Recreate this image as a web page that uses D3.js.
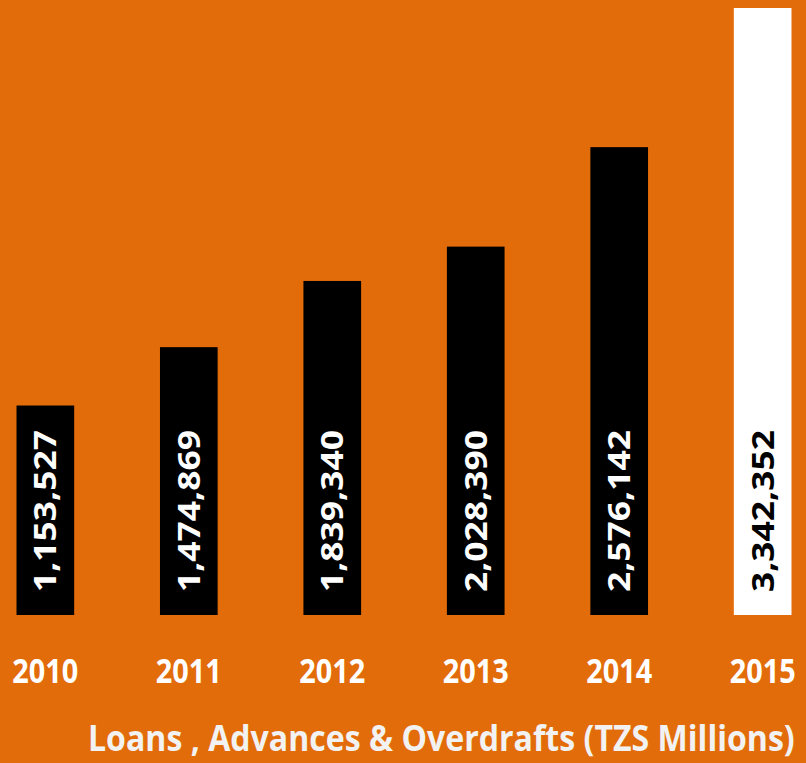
<!DOCTYPE html>
<html>
<head>
<meta charset="utf-8">
<script src="https://cdn.jsdelivr.net/npm/d3@7"></script>
<style>
  html, body { margin: 0; padding: 0; background: #E36C0A; }
  svg { display: block; }
</style>
</head>
<body>
<svg id="chart" width="806" height="763"></svg>
<script>
// Loans, advances & overdrafts by year (TZS millions)
const years = ["2010", "2011", "2012", "2013", "2014", "2015"];
const values = [1153527, 1474869, 1839340, 2028390, 2576142, 3342352];
const barColors = ["#000000", "#000000", "#000000", "#000000", "#000000", "#FFFFFF"];
const labelColors = ["#FFFFFF", "#FFFFFF", "#FFFFFF", "#FFFFFF", "#FFFFFF", "#000000"];
const title = "Loans , Advances & Overdrafts (TZS Millions)";

const W = 806, H = 763;
const baseline = 615;
const font = "'Open Sans', 'DejaVu Sans', sans-serif";

const svg = d3.select("#chart");
svg.append("rect").attr("width", W).attr("height", H).attr("fill", "#E36C0A");

const x = d3.scaleBand().domain(years).range([16.5, 791.5]).paddingInner(0.598).paddingOuter(0);
const y = d3.scaleLinear().domain([0, d3.max(values)]).range([baseline, 8]);

const data = years.map((yr, i) => ({ yr, v: values[i], fill: barColors[i], tc: labelColors[i] }));
const fmt = d3.format(",");

// Bars
svg.selectAll("rect.bar").data(data).join("rect")
  .attr("class", "bar")
  .attr("x", d => x(d.yr))
  .attr("y", d => y(d.v))
  .attr("width", x.bandwidth())
  .attr("height", d => y(0) - y(d.v))
  .attr("fill", d => d.fill);

// Value labels, rotated inside the bars
svg.selectAll("text.val").data(data).join("text")
  .attr("class", "val")
  .attr("transform", d => `translate(${x(d.yr) + x.bandwidth() / 2 + 11},${baseline - 23}) rotate(-90)`)
  .attr("font-family", font)
  .attr("font-weight", 700)
  .attr("font-size", 31)
  .attr("textLength", 162)
  .attr("lengthAdjust", "spacingAndGlyphs")
  .attr("fill", d => d.tc)
  .text(d => fmt(d.v));

// Category axis labels
const xAxis = svg.append("g").attr("transform", `translate(0,${baseline})`)
  .call(d3.axisBottom(x).tickSize(0).tickPadding(0));
xAxis.select(".domain").remove();
xAxis.selectAll("text")
  .attr("y", 68)
  .attr("dy", 0)
  .attr("font-family", font)
  .attr("font-weight", 700)
  .attr("font-size", 34)
  .attr("textLength", 66)
  .attr("lengthAdjust", "spacingAndGlyphs")
  .attr("fill", "#FFFFFF");

// Chart title along the bottom, squeezed horizontally to a fixed width
const titleWidth = 707;
const titleText = svg.append("text")
  .attr("font-family", font)
  .attr("font-weight", 700)
  .attr("font-size", 35)
  .attr("fill", "#F2F2F2")
  .text(title);
const natural = titleText.node().getComputedTextLength();
titleText.attr("transform", `translate(88,751) scale(${titleWidth / natural},1)`);
</script>
</body>
</html>
